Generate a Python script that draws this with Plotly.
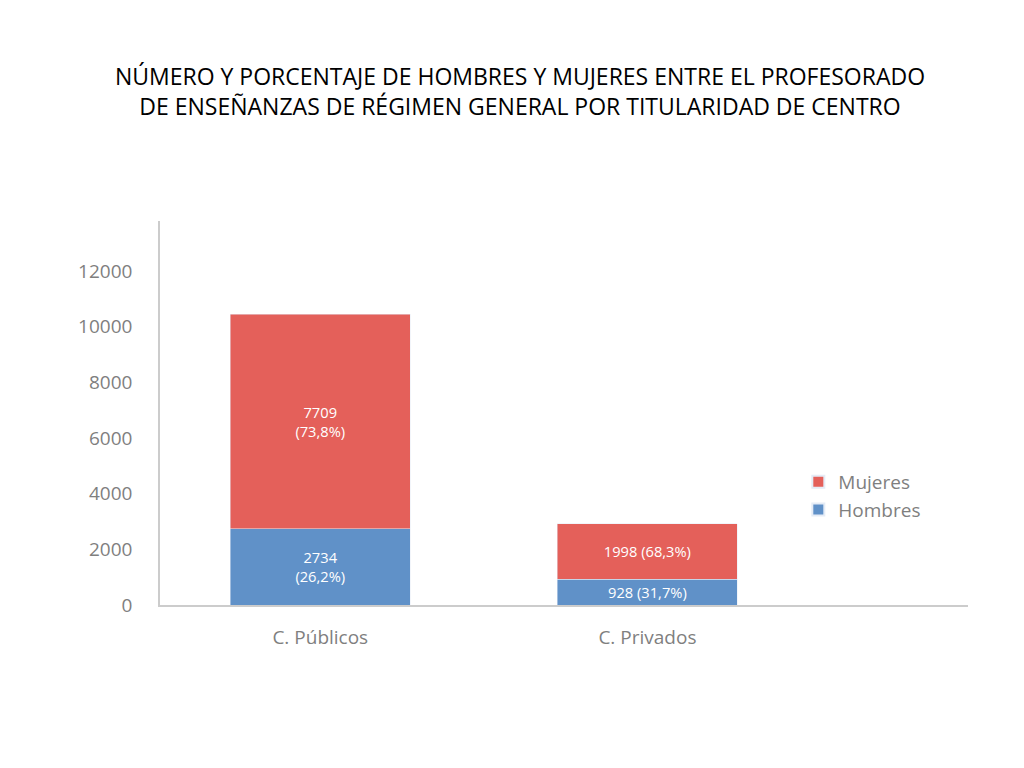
import plotly.graph_objects as go

centros = ["C. Públicos", "C. Privados"]
hombres = [2734, 928]
mujeres = [7709, 1998]
hombres_txt = ["2734<br>(26,2%)", "928 (31,7%)"]
mujeres_txt = ["7709<br>(73,8%)", "1998 (68,3%)"]
y_ticks = [0, 2000, 4000, 6000, 8000, 10000, 12000]

RED = "#E4605A"
BLUE = "#6091C8"
GREY = "#7f7f7f"

fig = go.Figure()
fig.add_bar(x=centros, y=hombres, name="Hombres", marker_color=BLUE, width=0.55,
            text=hombres_txt, textposition="inside", insidetextanchor="middle",
            textfont=dict(color="white", size=20))
fig.add_bar(x=centros, y=mujeres, name="Mujeres", marker_color=RED, width=0.55,
            text=mujeres_txt, textposition="inside", insidetextanchor="middle",
            textfont=dict(color="white", size=20))

fig.update_layout(
    barmode="stack",
    width=1024, height=768,
    margin=dict(l=152, r=64, t=213, b=171),
    paper_bgcolor="white", plot_bgcolor="white",
    font=dict(family="Open Sans", color=GREY, size=19),
    title=dict(text="NÚMERO Y PORCENTAJE DE HOMBRES Y MUJERES ENTRE EL PROFESORADO<br>DE ENSEÑANZAS DE RÉGIMEN GENERAL POR TITULARIDAD DE CENTRO",
               x=0.5, xanchor="center", y=0.9, yanchor="middle",
               font=dict(family="Open Sans", size=23, color="black")),
    legend=dict(x=0.79, y=0.37, xanchor="left", yanchor="top", traceorder="reversed",
                font=dict(size=19, color=GREY), itemsizing="constant", tracegroupgap=22),
    uniformtext=dict(minsize=10, mode="show"),
)
fig.update_xaxes(range=[-0.49, 1.98], showline=True, linecolor="#cccccc", linewidth=1.5,
                 ticks="", tickfont=dict(size=19, color=GREY), ticklabelstandoff=14)
fig.update_yaxes(range=[0, 13800], tickvals=y_ticks, ticktext=[str(v) for v in y_ticks],
                 showgrid=False, showline=True,
                 linecolor="#cccccc", linewidth=1.5, zeroline=False,
                 tickfont=dict(size=19, color=GREY), ticklabelstandoff=22)

fig.write_html("out.html")
